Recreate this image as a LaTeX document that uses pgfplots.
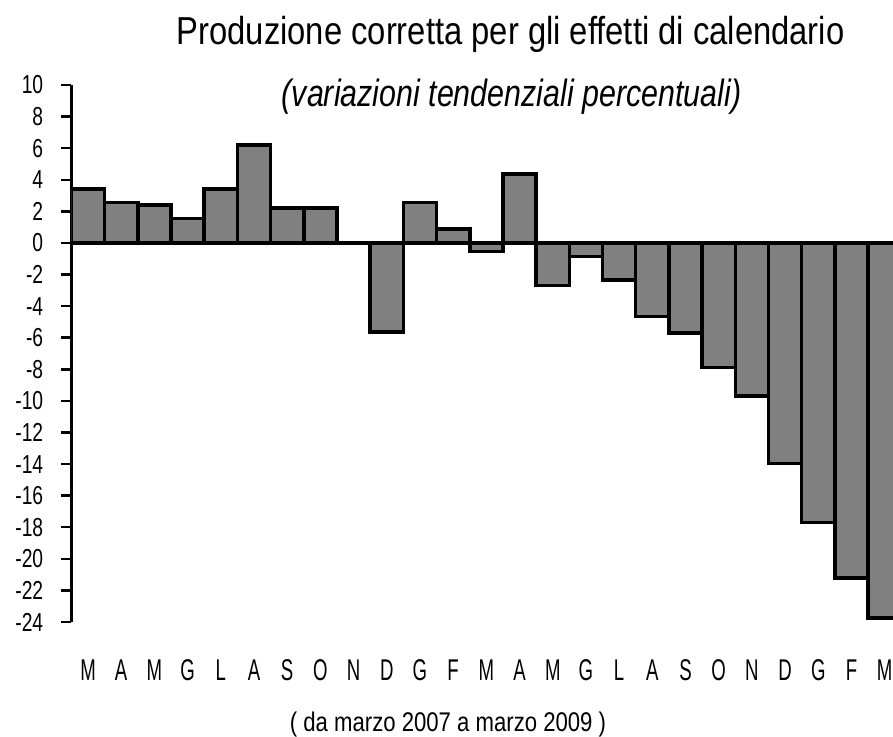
\documentclass[border=0pt]{standalone}
\usepackage{pgfplots}
\pgfplotsset{compat=1.18}
\usepackage{fontspec}
\setmainfont{Liberation Sans}
\newfontfamily\titlefont{Liberation Sans}[FakeStretch=0.84]
\newfontfamily\subfont{Liberation Sans}[FakeStretch=0.80]
\newfontfamily\tickfont{Liberation Sans}[FakeStretch=0.74]
\newfontfamily\xtfont{Liberation Sans}[FakeStretch=0.62]
\newfontfamily\xlfont{Liberation Sans}[FakeStretch=0.82]
\definecolor{bargray}{RGB}{128,128,128}
\begin{document}
\begin{tikzpicture}[x=1pt,y=1pt]
\useasboundingbox (0,0) rectangle (893,736);
\begin{axis}[
  at={(71.4pt,114pt)}, anchor=south west,
  scale only axis, width=821.6pt, height=537pt,
  xmin=-0.5, xmax=24.25, ymin=-24, ymax=10,
  axis y line*=left, axis x line*=bottom,
  x axis line style={draw=none},
  y axis line style={line width=3pt, black},
  ytick={-24,-22,...,10},
  ytick style={line width=2.5pt, black},
  tick align=outside, major tick length=10pt,
  xtick={0,...,24},
  xticklabels={M,A,M,G,L,A,S,O,N,D,G,F,M,A,M,G,L,A,S,O,N,D,G,F,M},
  xtick style={draw=none},
  /pgf/number format/assume math mode=true,
  yticklabel style={font=\fontsize{26}{26}\selectfont\tickfont, inner sep=0pt, xshift=-18pt},
  xticklabel style={font=\fontsize{30}{30}\selectfont\xtfont, anchor=base, yshift=-48pt, inner sep=0pt},
]
\addplot[ybar, bar width=1, bar shift=0pt, fill=bargray, draw=black, line width=3.5pt]
coordinates {
(0,3.4) (1,2.55) (2,2.4) (3,1.55) (4,3.4) (5,6.2) (6,2.2) (7,2.2) (8,0)
(9,-5.65) (10,2.55) (11,0.87) (12,-0.55) (13,4.35) (14,-2.7) (15,-0.85)
(16,-2.35) (17,-4.65) (18,-5.7) (19,-7.9) (20,-9.7) (21,-13.95) (22,-17.7)
(23,-21.2) (24,-23.75)
};
\draw[line width=3pt, black] (axis cs:-0.5,0) -- (axis cs:24.25,0);
\end{axis}
\node[anchor=base, inner sep=0pt, font=\fontsize{39}{39}\selectfont\titlefont] at (510.5,691) {Produzione corretta per gli effetti di calendario};
\node[anchor=base, inner sep=0pt, font=\fontsize{38}{38}\selectfont\subfont\itshape] at (511.5,629) {(variazioni tendenziali percentuali)};
\node[anchor=base, inner sep=0pt, font=\fontsize{27}{27}\selectfont\xlfont] at (448,4.5) {( da marzo 2007 a marzo 2009 )};
\end{tikzpicture}
\end{document}
